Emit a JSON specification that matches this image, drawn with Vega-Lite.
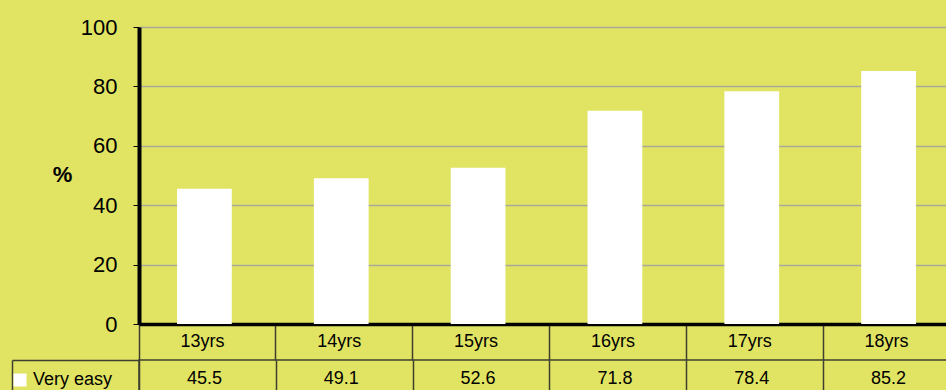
{
  "$schema": "https://vega.github.io/schema/vega-lite/v6.json",
  "autosize": {"type": "pad"},
  "padding": {"left": 10, "top": 16, "right": 0, "bottom": 0},
  "background": "#E1E463",
  "config": {"view": {"stroke": null}, "font": "Liberation Sans"},
  "spacing": 36,
  "bounds": "flush",
  "datasets": {
    "d": [
      {"age": "13yrs", "series": "Very easy", "value": 45.5},
      {"age": "14yrs", "series": "Very easy", "value": 49.1},
      {"age": "15yrs", "series": "Very easy", "value": 52.6},
      {"age": "16yrs", "series": "Very easy", "value": 71.8},
      {"age": "17yrs", "series": "Very easy", "value": 78.4},
      {"age": "18yrs", "series": "Very easy", "value": 85.2}
    ]
  },
  "vconcat": [
    {
      "width": 821,
      "height": 297,
      "data": {"name": "d"},
      "mark": {"type": "bar", "width": {"band": 0.4}, "xOffset": -3},
      "encoding": {
        "x": {
          "field": "age", "type": "nominal", "sort": null,
          "scale": {"paddingInner": 0, "paddingOuter": 0},
          "axis": {
            "title": null, "labelAngle": 0, "domainColor": "#000000", "domainWidth": 3.5,
            "ticks": true, "tickColor": "#3F3F30", "tickWidth": 1.5, "tickSize": 36, "bandPosition": 0,
            "labelPadding": -19, "labelBaseline": "middle", "labelFontSize": 18, "labelColor": "#000000",
            "labelOffset": -5, "grid": false
          }
        },
        "y": {
          "field": "value", "type": "quantitative",
          "scale": {"domain": [0, 100]},
          "axis": {
            "values": [0, 20, 40, 60, 80, 100],
            "title": "%", "titleAngle": 0, "titleFontWeight": "bold", "titleFontSize": 22,
            "titleColor": "#000000", "titleX": -77, "titleY": 147, "titleAlign": "center", "titleBaseline": "middle",
            "grid": true, "gridColor": "#A9A99A", "gridWidth": 1.5,
            "tickSize": 6, "tickColor": "#000000", "tickWidth": 1,
            "labelPadding": 16, "labelFontSize": 22, "labelColor": "#000000",
            "domainColor": "#000000", "domainWidth": 4
          }
        },
        "color": {
          "field": "series", "type": "nominal",
          "scale": {"range": ["#FFFFFF"]},
          "legend": {
            "title": null, "orient": "none", "legendX": -128, "legendY": 344,
            "symbolType": "square", "symbolSize": 169, "symbolStrokeWidth": 0, "symbolFillColor": "#FFFFFF",
            "labelFontSize": 18, "labelColor": "#000000", "labelOffset": 4, "padding": 0
          }
        }
      }
    },
    {
      "width": 821,
      "height": 38,
      "data": {"name": "d"},
      "view": {"stroke": "#3F3F30", "strokeWidth": 1.5},
      "mark": {"type": "text", "fontSize": 18, "color": "#000000", "dx": -3},
      "encoding": {
        "x": {
          "field": "age", "type": "nominal", "sort": null,
          "scale": {"paddingInner": 0, "paddingOuter": 0},
          "axis": {
            "orient": "top", "labels": false, "title": null, "domain": false,
            "ticks": true, "tickOffset": -68.5, "tickSize": -38, "tickColor": "#3F3F30", "tickWidth": 1.5, "grid": false
          }
        },
        "y": {
          "field": "series", "type": "nominal",
          "scale": {"paddingInner": 0, "paddingOuter": 0},
          "axis": {
            "orient": "left", "offset": 127, "labels": false, "title": null,
            "domainColor": "#3F3F30", "domainWidth": 1.5,
            "ticks": true, "tickOffset": -19, "tickSize": -127, "tickColor": "#3F3F30", "tickWidth": 1.5, "grid": false
          }
        },
        "text": {"field": "value", "type": "quantitative", "format": ".1f"}
      }
    }
  ]
}
